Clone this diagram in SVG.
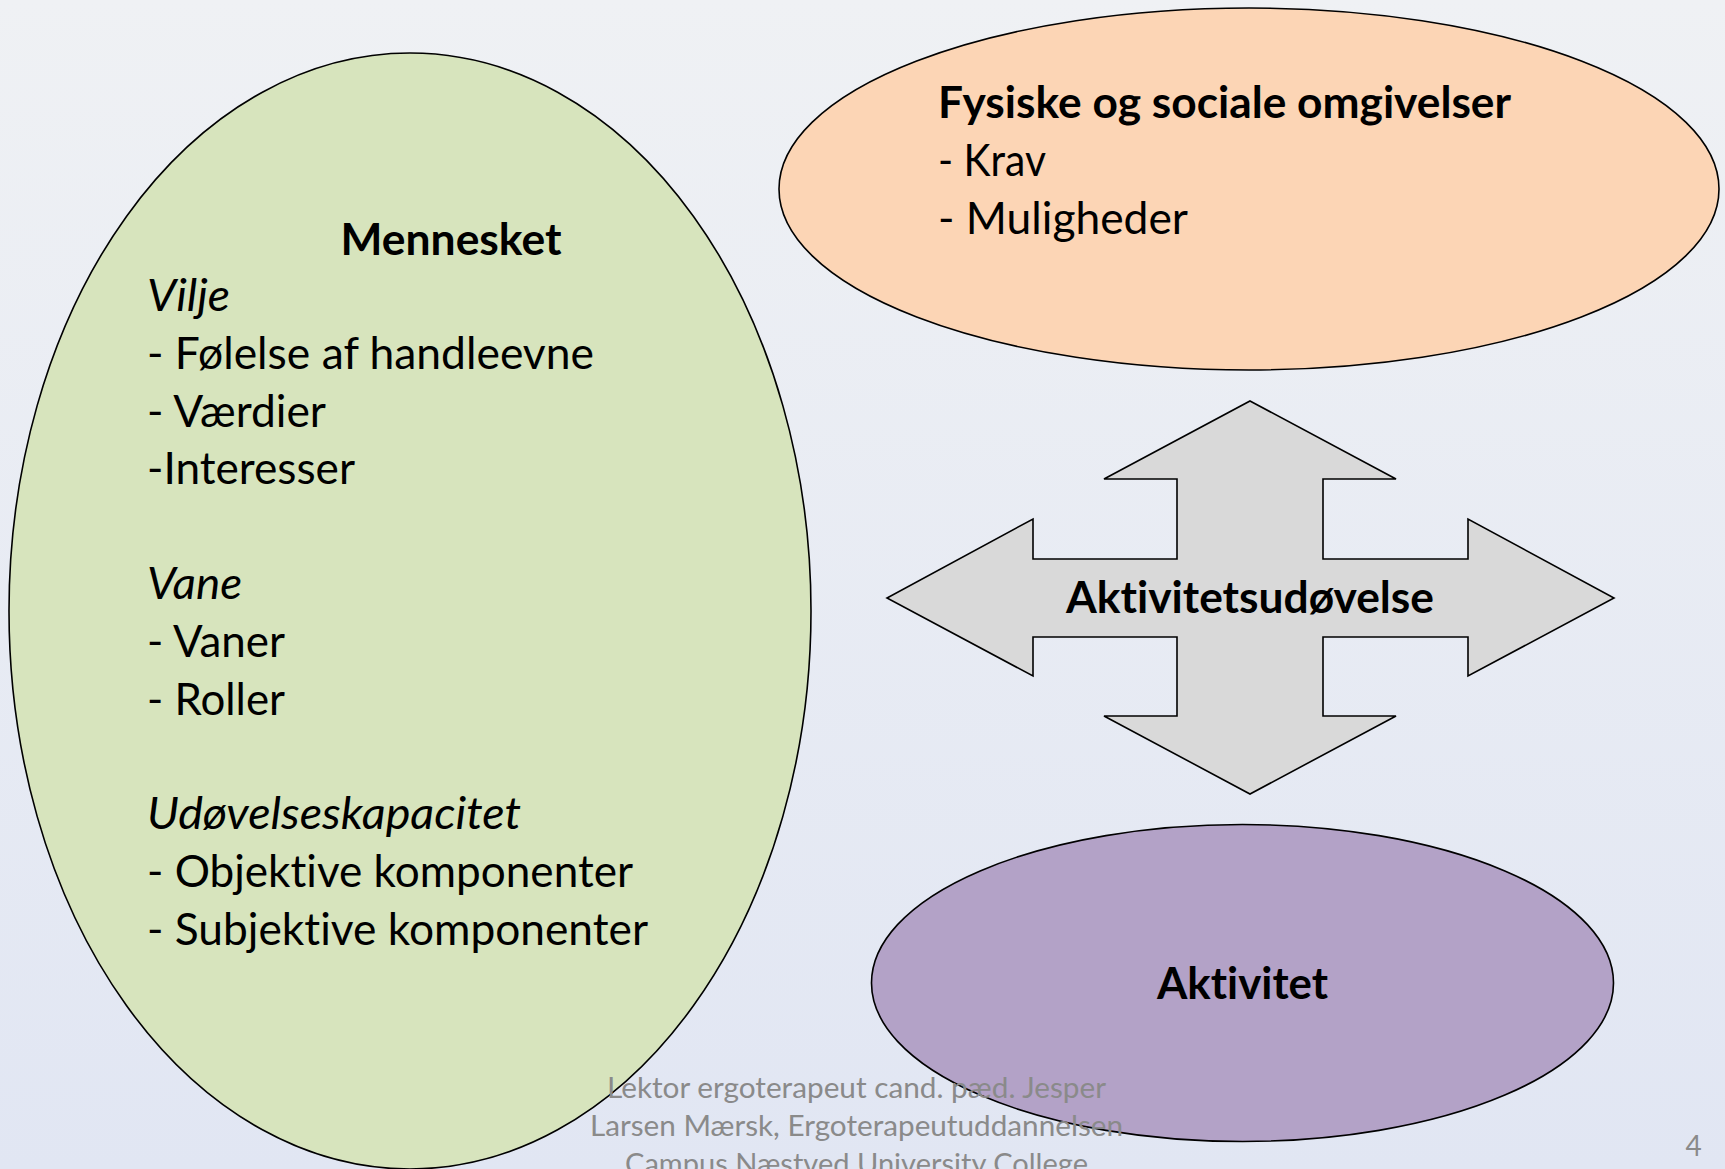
<svg xmlns="http://www.w3.org/2000/svg" width="1725" height="1169" viewBox="0 0 1725 1169">
  <defs>
    <linearGradient id="bg" x1="0" y1="0" x2="0" y2="1">
      <stop offset="0" stop-color="#eff1f4"/>
      <stop offset="1" stop-color="#e1e6f3"/>
    </linearGradient>
  </defs>
  <style>
    .shape { stroke: #000000; stroke-width: 1.6; }
    text { font-variant-ligatures: none; font-feature-settings: "liga" 0, "clig" 0; }
    .t { font-family: Lato, "Liberation Sans", sans-serif; fill: #000000; }
    .body { font-size: 45px; }
    .bold { font-size: 44px; font-weight: bold; }
    .it { font-style: italic; }
    .foot { font-family: Lato, "Liberation Sans", sans-serif; font-size: 28px; fill: #8a8a8a; }
  </style>
  <rect x="0" y="0" width="1725" height="1169" fill="url(#bg)"/>

  <g id="mennesket">
    <ellipse class="shape" cx="410" cy="611" rx="401" ry="558" fill="#d7e4bd"/>
    <text class="t bold" x="451" y="255" text-anchor="middle" textLength="221" lengthAdjust="spacingAndGlyphs">Mennesket</text>
    <text class="t body it" x="147" y="310.7" textLength="83" lengthAdjust="spacingAndGlyphs">Vilje</text>
    <text class="t body" x="147" y="368.5" textLength="447" lengthAdjust="spacingAndGlyphs">- Følelse af handleevne</text>
    <text class="t body" x="147" y="427" textLength="179" lengthAdjust="spacingAndGlyphs">- Værdier</text>
    <text class="t body" x="147" y="484.3" textLength="208" lengthAdjust="spacingAndGlyphs">-Interesser</text>
    <text class="t body it" x="147" y="599" textLength="95" lengthAdjust="spacingAndGlyphs">Vane</text>
    <text class="t body" x="147" y="657" textLength="138" lengthAdjust="spacingAndGlyphs">- Vaner</text>
    <text class="t body" x="147" y="714.5" textLength="138" lengthAdjust="spacingAndGlyphs">- Roller</text>
    <text class="t body it" x="147" y="829" textLength="374" lengthAdjust="spacingAndGlyphs">Udøvelseskapacitet</text>
    <text class="t body" x="147" y="886.5" textLength="486" lengthAdjust="spacingAndGlyphs">- Objektive komponenter</text>
    <text class="t body" x="147" y="944.5" textLength="501" lengthAdjust="spacingAndGlyphs">- Subjektive komponenter</text>
  </g>

  <g id="omgivelser">
    <ellipse class="shape" cx="1249" cy="189" rx="470" ry="181" fill="#fcd5b5"/>
    <text class="t bold" x="938" y="118.3" textLength="573" lengthAdjust="spacingAndGlyphs">Fysiske og sociale omgivelser</text>
    <text class="t body" x="938" y="176" textLength="108" lengthAdjust="spacingAndGlyphs">- Krav</text>
    <text class="t body" x="938" y="233.5" textLength="250" lengthAdjust="spacingAndGlyphs">- Muligheder</text>
  </g>

  <g id="aktivitetsudoevelse">
    <polygon class="shape" fill="#d9d9d9" points="1250,401 1396,479 1323,479 1323,559 1468,559 1468,519 1614,598 1468,676 1468,637 1323,637 1323,716 1396,716 1250,794 1104,716 1177,716 1177,637 1033,637 1033,676 887,598 1033,519 1033,559 1177,559 1177,479 1104,479"/>
    <text class="t bold" x="1250" y="612.7" text-anchor="middle" textLength="368" lengthAdjust="spacingAndGlyphs">Aktivitetsudøvelse</text>
  </g>

  <g id="aktivitet">
    <ellipse class="shape" cx="1242.5" cy="983" rx="371" ry="158.5" fill="#b3a2c7"/>
    <text class="t bold" x="1242.5" y="999" text-anchor="middle" textLength="171" lengthAdjust="spacingAndGlyphs">Aktivitet</text>
  </g>

  <g id="footer">
    <text class="foot" x="856.5" y="1097.7" text-anchor="middle" textLength="499" lengthAdjust="spacingAndGlyphs">Lektor ergoterapeut cand. pæd. Jesper</text>
    <text class="foot" x="856.5" y="1136" text-anchor="middle" textLength="533" lengthAdjust="spacingAndGlyphs">Larsen Mærsk, Ergoterapeutuddannelsen</text>
    <text class="foot" x="856.5" y="1174.3" text-anchor="middle" textLength="463" lengthAdjust="spacingAndGlyphs">Campus Næstved University College</text>
  </g>

  <g id="page-number">
    <text class="foot" x="1693.5" y="1155.5" text-anchor="middle">4</text>
  </g>
</svg>
